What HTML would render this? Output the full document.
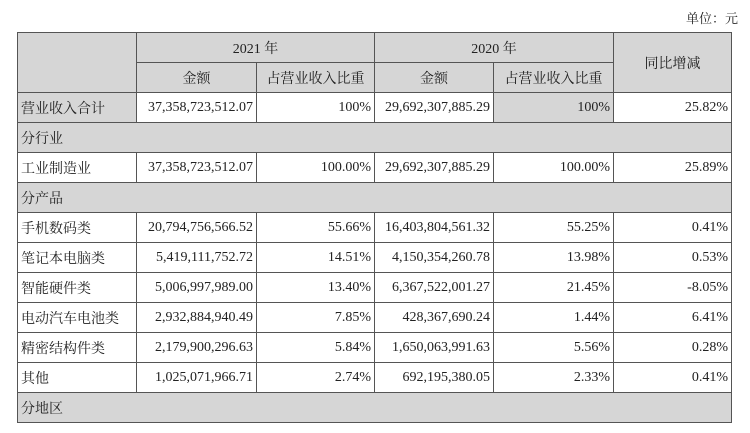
<!DOCTYPE html>
<html><head><meta charset="utf-8"><style>
body{margin:0;width:750px;height:433px;background:#fff;overflow:hidden;font-family:"Liberation Serif","Noto Serif CJK SC",serif;color:#222}
.unit{position:absolute;left:686px;top:8px;font-size:13px}
table{position:absolute;left:17px;top:32px;border-collapse:collapse;table-layout:fixed;font-size:14px}
td{border:1px solid #555;height:30px;padding:0 3px;white-space:nowrap;box-sizing:border-box}
.g{background:#d6d6d6}.c{text-align:center}.r{text-align:right}
</style></head><body>
<div class="unit">单位：元</div>
<table>
<colgroup><col style="width:119px"><col style="width:120px"><col style="width:118px"><col style="width:119px"><col style="width:120px"><col style="width:118px"></colgroup>
<tr><td class="g" rowspan="2"></td><td class="g c" colspan="2">2021 年</td><td class="g c" colspan="2">2020 年</td><td class="g c" rowspan="2">同比增减</td></tr>
<tr><td class="g c">金额</td><td class="g c">占营业收入比重</td><td class="g c">金额</td><td class="g c">占营业收入比重</td></tr>
<tr><td class="g">营业收入合计</td><td class="r">37,358,723,512.07</td><td class="r">100%</td><td class="r">29,692,307,885.29</td><td class="r g">100%</td><td class="r">25.82%</td></tr>
<tr><td class="g" colspan="6">分行业</td></tr>
<tr><td>工业制造业</td><td class="r">37,358,723,512.07</td><td class="r">100.00%</td><td class="r">29,692,307,885.29</td><td class="r">100.00%</td><td class="r">25.89%</td></tr>
<tr><td class="g" colspan="6">分产品</td></tr>
<tr><td>手机数码类</td><td class="r">20,794,756,566.52</td><td class="r">55.66%</td><td class="r">16,403,804,561.32</td><td class="r">55.25%</td><td class="r">0.41%</td></tr>
<tr><td>笔记本电脑类</td><td class="r">5,419,111,752.72</td><td class="r">14.51%</td><td class="r">4,150,354,260.78</td><td class="r">13.98%</td><td class="r">0.53%</td></tr>
<tr><td>智能硬件类</td><td class="r">5,006,997,989.00</td><td class="r">13.40%</td><td class="r">6,367,522,001.27</td><td class="r">21.45%</td><td class="r">-8.05%</td></tr>
<tr><td>电动汽车电池类</td><td class="r">2,932,884,940.49</td><td class="r">7.85%</td><td class="r">428,367,690.24</td><td class="r">1.44%</td><td class="r">6.41%</td></tr>
<tr><td>精密结构件类</td><td class="r">2,179,900,296.63</td><td class="r">5.84%</td><td class="r">1,650,063,991.63</td><td class="r">5.56%</td><td class="r">0.28%</td></tr>
<tr><td>其他</td><td class="r">1,025,071,966.71</td><td class="r">2.74%</td><td class="r">692,195,380.05</td><td class="r">2.33%</td><td class="r">0.41%</td></tr>
<tr><td class="g" colspan="6">分地区</td></tr>
</table>
</body></html>
